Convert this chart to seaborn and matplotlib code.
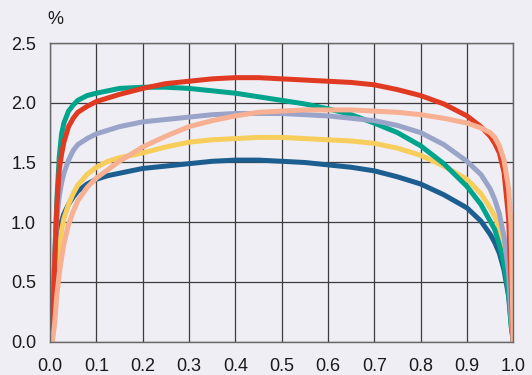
import numpy as np
import pandas as pd
import seaborn as sns
import matplotlib.pyplot as plt

x = [0.005, 0.01, 0.015, 0.02, 0.025, 0.03, 0.04, 0.05, 0.06, 0.08, 0.1,
     0.125, 0.15, 0.2, 0.25, 0.3, 0.35, 0.4, 0.45, 0.5, 0.55, 0.6, 0.65,
     0.7, 0.75, 0.8, 0.85, 0.9, 0.93, 0.95, 0.96, 0.97, 0.98, 0.99, 0.995, 1.0]

blue = [0.0, 0.50, 0.78, 0.93, 1.01, 1.07, 1.15, 1.21, 1.26, 1.32, 1.36,
        1.39, 1.41, 1.45, 1.47, 1.49, 1.51, 1.52, 1.52, 1.51, 1.50, 1.48, 1.46,
        1.43, 1.38, 1.32, 1.23, 1.12, 1.01, 0.90, 0.83, 0.74, 0.60, 0.38, 0.18, 0.0]
yellow = [0.0, 0.45, 0.66, 0.80, 0.93, 1.03, 1.15, 1.24, 1.31, 1.40, 1.46,
          1.51, 1.54, 1.58, 1.63, 1.67, 1.69, 1.70, 1.71, 1.71, 1.70, 1.69, 1.68,
          1.66, 1.62, 1.56, 1.47, 1.36, 1.24, 1.12, 1.05, 0.95, 0.77, 0.48, 0.20, 0.0]
teal = [0.0, 0.70, 1.20, 1.55, 1.74, 1.83, 1.93, 1.98, 2.02, 2.06, 2.08,
        2.10, 2.12, 2.13, 2.13, 2.12, 2.10, 2.08, 2.05, 2.02, 1.99, 1.95, 1.90,
        1.83, 1.75, 1.64, 1.49, 1.30, 1.15, 1.01, 0.94, 0.81, 0.65, 0.40, 0.14, 0.0]
lavender = [0.0, 0.70, 1.05, 1.22, 1.33, 1.41, 1.52, 1.60, 1.65, 1.70, 1.74,
            1.77, 1.80, 1.84, 1.86, 1.88, 1.90, 1.91, 1.91, 1.91, 1.90, 1.89, 1.87,
            1.85, 1.81, 1.75, 1.65, 1.51, 1.40, 1.28, 1.19, 1.07, 0.88, 0.58, 0.22, 0.0]
red = [0.0, 0.65, 1.15, 1.44, 1.57, 1.67, 1.80, 1.87, 1.92, 1.97, 2.01,
       2.04, 2.07, 2.12, 2.16, 2.18, 2.20, 2.21, 2.21, 2.20, 2.19, 2.18, 2.17,
       2.15, 2.11, 2.06, 1.99, 1.89, 1.80, 1.72, 1.66, 1.58, 1.42, 1.03, 0.52, 0.0]
salmon = [0.0, 0.15, 0.40, 0.57, 0.70, 0.82, 0.98, 1.09, 1.18, 1.29, 1.37,
          1.44, 1.51, 1.63, 1.72, 1.80, 1.85, 1.89, 1.92, 1.93, 1.94, 1.94, 1.94,
          1.93, 1.92, 1.90, 1.87, 1.83, 1.79, 1.75, 1.71, 1.64, 1.52, 1.28, 0.98, 0.0]

series = {"blue": blue, "yellow": yellow, "teal": teal,
          "lavender": lavender, "red": red, "salmon": salmon}
colors = {"blue": "#1b5e8f", "yellow": "#f7cd5b", "teal": "#00a48c",
          "lavender": "#99a4c8", "red": "#e03a22", "salmon": "#f7b092"}

x_ticks = [0.0, 0.1, 0.2, 0.3, 0.4, 0.5, 0.6, 0.7, 0.8, 0.9, 1.0]
y_ticks = [0.0, 0.5, 1.0, 1.5, 2.0, 2.5]


def main() -> None:
    df = pd.concat(
        [pd.DataFrame({"x": x, "y": v, "s": k}) for k, v in series.items()]
    ).dropna()

    bg = "#efeef5"
    sns.set_theme(style="whitegrid")
    plt.rcParams["font.family"] = ["Liberation Sans", "DejaVu Sans"]

    fig = plt.figure(figsize=(5.32, 3.75), dpi=100, facecolor=bg)
    ax = fig.add_axes([0.094, 0.0888, 0.8708, 0.7965], facecolor=bg)

    sns.lineplot(data=df, x="x", y="y", hue="s", hue_order=list(series),
                 palette=colors, linewidth=3.6, legend=False, sort=False,
                 estimator=None, ax=ax)

    ax.set_xlim(0, 1.0)
    ax.set_ylim(0, 2.5)
    ax.set_xticks(x_ticks)
    ax.set_yticks(y_ticks)
    ax.set_xticklabels([f"{t:.1f}" for t in x_ticks])
    ax.set_yticklabels([f"{t:.1f}" for t in y_ticks])
    ax.set_xlabel("")
    ax.set_ylabel("")
    ax.grid(True, color="#3c3c3c", linewidth=0.9)
    ax.set_axisbelow(True)
    for sp in ax.spines.values():
        sp.set_color("#666666")
        sp.set_linewidth(1.0)
    ax.tick_params(axis="x", length=0, pad=12, labelsize=13, colors="#1a1a1a")
    ax.tick_params(axis="y", length=0, pad=10, labelsize=13, colors="#1a1a1a")

    fig.text(55 / 532, 1 - 19 / 375, "%", ha="center", va="center",
             fontsize=13, color="#1a1a1a")

    fig.savefig("out.png", dpi=100, facecolor=bg)
    plt.close(fig)


if __name__ == "__main__":
    main()
